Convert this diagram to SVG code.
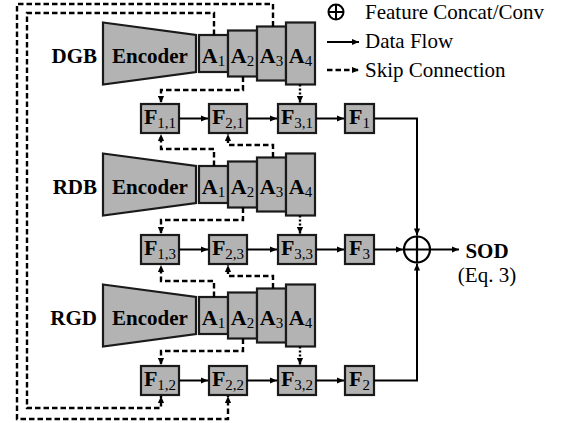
<svg xmlns="http://www.w3.org/2000/svg" width="564" height="423" viewBox="0 0 564 423">
<defs>
<marker id="ah" viewBox="0 0 8 8" refX="8" refY="4" markerWidth="8" markerHeight="7" markerUnits="userSpaceOnUse" orient="auto"><path d="M0,0.5 L8,4 L0,7.5 Z" fill="#000"/></marker>
<style>
.box{fill:#b3b3b3;stroke:#1a1a1a;stroke-width:2.2}
.lab{font-family:'Liberation Serif','DejaVu Serif',serif;font-weight:bold;font-size:21px;fill:#000}
.bl{font-family:'Liberation Serif','DejaVu Serif',serif;font-weight:bold;font-size:22px;fill:#000}
.sub{font-weight:normal;font-size:15px}
.reg{font-family:'Liberation Serif','DejaVu Serif',serif;font-size:21px;fill:#000}
.solid{fill:none;stroke:#000;stroke-width:2}
.dash{fill:none;stroke:#000;stroke-width:2.4;stroke-dasharray:5.5 3}
.dot{fill:none;stroke:#000;stroke-width:2.4;stroke-dasharray:2 2}
</style>
</defs>
<rect width="564" height="423" fill="#fff"/>

<g id="legend">
<circle cx="336" cy="12" r="7.5" fill="none" stroke="#000" stroke-width="2"/>
<path d="M328.5,12 H343.5 M336,4.5 V19.5" stroke="#000" stroke-width="2"/>
<text class="reg" x="365" y="19" font-family="Liberation Serif, serif">Feature Concat/Conv</text>
<line class="solid" x1="327" y1="42" x2="359" y2="42" marker-end="url(#ah)"/>
<text class="reg" x="365" y="48" font-family="Liberation Serif, serif">Data Flow</text>
<line class="dash" x1="327" y1="70" x2="359" y2="70" marker-end="url(#ah)"/>
<text class="reg" x="365" y="77" font-family="Liberation Serif, serif">Skip Connection</text>
</g>

<g id="dgb">
<text class="lab" x="97" y="63" text-anchor="end">DGB</text>
<polygon class="box" points="103,22.5 196,35 196,72 103,84.5"/>
<text class="lab" x="150" y="63" text-anchor="middle">Encoder</text>
<rect class="box" x="199" y="35" width="29" height="37"/>
<text class="bl" x="213.5" y="63" text-anchor="middle">A<tspan class="sub" dy="3">1</tspan></text>
<rect class="box" x="228" y="30.5" width="29" height="46"/>
<text class="bl" x="242.5" y="63" text-anchor="middle">A<tspan class="sub" dy="3">2</tspan></text>
<rect class="box" x="257" y="26.5" width="29" height="54"/>
<text class="bl" x="271.5" y="63" text-anchor="middle">A<tspan class="sub" dy="3">3</tspan></text>
<rect class="box" x="286" y="22.5" width="29" height="62"/>
<text class="bl" x="300.5" y="63" text-anchor="middle">A<tspan class="sub" dy="3">4</tspan></text>
</g>

<g id="rdb">
<text class="lab" x="97" y="194" text-anchor="end">RDB</text>
<polygon class="box" points="103,153.5 196,166 196,203 103,215.5"/>
<text class="lab" x="150" y="194" text-anchor="middle">Encoder</text>
<rect class="box" x="199" y="166" width="29" height="37"/>
<text class="bl" x="213.5" y="194" text-anchor="middle">A<tspan class="sub" dy="3">1</tspan></text>
<rect class="box" x="228" y="161.5" width="29" height="46"/>
<text class="bl" x="242.5" y="194" text-anchor="middle">A<tspan class="sub" dy="3">2</tspan></text>
<rect class="box" x="257" y="157.5" width="29" height="54"/>
<text class="bl" x="271.5" y="194" text-anchor="middle">A<tspan class="sub" dy="3">3</tspan></text>
<rect class="box" x="286" y="153.5" width="29" height="62"/>
<text class="bl" x="300.5" y="194" text-anchor="middle">A<tspan class="sub" dy="3">4</tspan></text>
</g>

<g id="rgd">
<text class="lab" x="97" y="325" text-anchor="end">RGD</text>
<polygon class="box" points="103,284.5 196,297 196,334 103,346.5"/>
<text class="lab" x="150" y="325" text-anchor="middle">Encoder</text>
<rect class="box" x="199" y="297" width="29" height="37"/>
<text class="bl" x="213.5" y="325" text-anchor="middle">A<tspan class="sub" dy="3">1</tspan></text>
<rect class="box" x="228" y="292.5" width="29" height="46"/>
<text class="bl" x="242.5" y="325" text-anchor="middle">A<tspan class="sub" dy="3">2</tspan></text>
<rect class="box" x="257" y="288.5" width="29" height="54"/>
<text class="bl" x="271.5" y="325" text-anchor="middle">A<tspan class="sub" dy="3">3</tspan></text>
<rect class="box" x="286" y="284.5" width="29" height="62"/>
<text class="bl" x="300.5" y="325" text-anchor="middle">A<tspan class="sub" dy="3">4</tspan></text>
</g>

<g id="f11"><rect class="box" x="141" y="104" width="38" height="29"/><text class="bl" x="160" y="124" text-anchor="middle">F<tspan class="sub" dy="4">1,1</tspan></text></g>
<g id="f21"><rect class="box" x="209" y="104" width="38" height="29"/><text class="bl" x="228" y="124" text-anchor="middle">F<tspan class="sub" dy="4">2,1</tspan></text></g>
<g id="f31"><rect class="box" x="278" y="104" width="38" height="29"/><text class="bl" x="297" y="124" text-anchor="middle">F<tspan class="sub" dy="4">3,1</tspan></text></g>
<g id="f1"><rect class="box" x="345" y="104" width="29" height="29"/><text class="bl" x="359.5" y="124" text-anchor="middle">F<tspan class="sub" dy="4">1</tspan></text></g>

<g id="f13"><rect class="box" x="141" y="235" width="38" height="29"/><text class="bl" x="160" y="255" text-anchor="middle">F<tspan class="sub" dy="4">1,3</tspan></text></g>
<g id="f23"><rect class="box" x="209" y="235" width="38" height="29"/><text class="bl" x="228" y="255" text-anchor="middle">F<tspan class="sub" dy="4">2,3</tspan></text></g>
<g id="f33"><rect class="box" x="278" y="235" width="38" height="29"/><text class="bl" x="297" y="255" text-anchor="middle">F<tspan class="sub" dy="4">3,3</tspan></text></g>
<g id="f3"><rect class="box" x="345" y="235" width="29" height="29"/><text class="bl" x="359.5" y="255" text-anchor="middle">F<tspan class="sub" dy="4">3</tspan></text></g>

<g id="f12"><rect class="box" x="141" y="366" width="38" height="29"/><text class="bl" x="160" y="386" text-anchor="middle">F<tspan class="sub" dy="4">1,2</tspan></text></g>
<g id="f22"><rect class="box" x="209" y="366" width="38" height="29"/><text class="bl" x="228" y="386" text-anchor="middle">F<tspan class="sub" dy="4">2,2</tspan></text></g>
<g id="f32"><rect class="box" x="278" y="366" width="38" height="29"/><text class="bl" x="297" y="386" text-anchor="middle">F<tspan class="sub" dy="4">3,2</tspan></text></g>
<g id="f2"><rect class="box" x="345" y="366" width="29" height="29"/><text class="bl" x="359.5" y="386" text-anchor="middle">F<tspan class="sub" dy="4">2</tspan></text></g>

<g id="fuse">
<circle cx="417" cy="249.5" r="13" fill="#fff" stroke="#000" stroke-width="2.2"/>
<path d="M404,249.5 H430 M417,236.5 V262.5" stroke="#000" stroke-width="2.2"/>
</g>
<g id="sod">
<text class="lab" x="487" y="258" text-anchor="middle">SOD</text>
<text class="reg" x="487" y="282" text-anchor="middle">(Eq. 3)</text>
</g>

<g id="connectors">
<line class="solid" x1="179" y1="118.5" x2="208" y2="118.5" marker-end="url(#ah)"/>
<line class="solid" x1="247" y1="118.5" x2="277" y2="118.5" marker-end="url(#ah)"/>
<line class="solid" x1="316" y1="118.5" x2="344" y2="118.5" marker-end="url(#ah)"/>
<line class="solid" x1="179" y1="249.5" x2="208" y2="249.5" marker-end="url(#ah)"/>
<line class="solid" x1="247" y1="249.5" x2="277" y2="249.5" marker-end="url(#ah)"/>
<line class="solid" x1="316" y1="249.5" x2="344" y2="249.5" marker-end="url(#ah)"/>
<line class="solid" x1="179" y1="380.5" x2="208" y2="380.5" marker-end="url(#ah)"/>
<line class="solid" x1="247" y1="380.5" x2="277" y2="380.5" marker-end="url(#ah)"/>
<line class="solid" x1="316" y1="380.5" x2="344" y2="380.5" marker-end="url(#ah)"/>
<path class="solid" d="M374,118.5 H417 V235.5" marker-end="url(#ah)"/>
<line class="solid" x1="374" y1="249.5" x2="403" y2="249.5" marker-end="url(#ah)"/>
<path class="solid" d="M374,380.5 H417 V263.5" marker-end="url(#ah)"/>
<line class="solid" x1="430" y1="249.5" x2="459" y2="249.5" marker-end="url(#ah)"/>
<path class="dash" d="M214,35 V13 H27 V408 H161 V396" marker-end="url(#ah)"/>
<path class="dash" d="M273,26.5 V4 H17 V419 H228 V396" marker-end="url(#ah)"/>
<path class="dash" d="M243,76.5 V90 H161 V103" marker-end="url(#ah)"/>
<path class="dot" d="M300,84.5 V103" marker-end="url(#ah)"/>
<path class="dash" d="M214,166 V149 H161 V134" marker-end="url(#ah)"/>
<path class="dash" d="M273,157.5 V145 H228 V134" marker-end="url(#ah)"/>
<path class="dash" d="M243,207.5 V220 H161 V234" marker-end="url(#ah)"/>
<path class="dot" d="M300,215.5 V234" marker-end="url(#ah)"/>
<path class="dash" d="M214,297 V281 H161 V265" marker-end="url(#ah)"/>
<path class="dash" d="M273,288.5 V276 H228 V265" marker-end="url(#ah)"/>
<path class="dash" d="M243,338.5 V351 H161 V365" marker-end="url(#ah)"/>
<path class="dot" d="M300,346.5 V365" marker-end="url(#ah)"/>
</g>
</svg>
